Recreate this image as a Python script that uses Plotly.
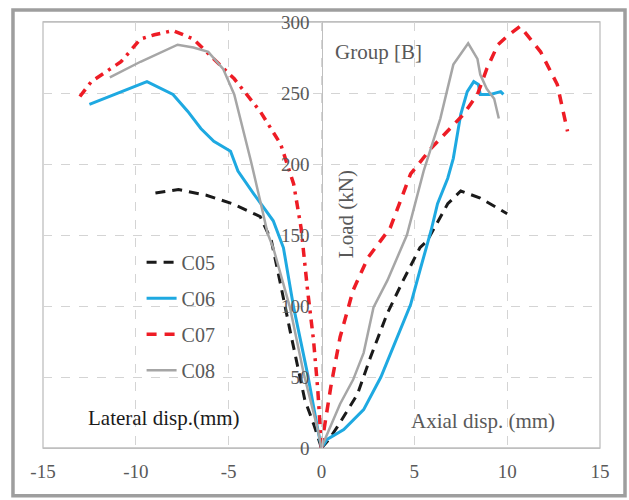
import plotly.graph_objects as go

# ---------------- data ----------------
x_ticks = [-15, -10, -5, 0, 5, 10, 15]
x_tick_text = ["-15", "-10", "-5", "0", "5", "10", "15"]
y_ticks = [0, 50, 100, 150, 200, 250, 300]
y_tick_text = ["0", "50", "100", "150", "200", "250", "300"]

series_names = ["C05", "C06", "C07", "C08"]

c05_lat_x = [0, -0.4, -0.9, -1.3, -1.7, -2.2, -2.7, -3.3, -4.8, -6.2, -7.7, -9.2]
c05_lat_y = [0, 16, 34, 58, 83, 115, 146, 163, 172, 178, 182, 179]
c05_ax_x = [0, 0.4, 0.86, 1.94, 2.64, 3.55, 4.4, 5.3, 5.7, 6.8, 7.5, 8.55, 10.0]
c05_ax_y = [0, 6, 15, 38, 64, 95, 118, 141, 146, 172, 181, 176, 165]

c06_lat_x = [0, -0.2, -0.75, -1.5, -2.05, -2.6, -3.65, -4.5, -4.9, -5.8, -6.5, -7.2, -8.0, -9.4, -12.5]
c06_lat_y = [0, 13, 52, 99, 141, 160, 179, 195, 209, 216, 225, 237, 249, 258, 242]
c06_ax_x = [0, 0.3, 1.2, 2.27, 3.2, 4.1, 4.8, 5.3, 5.9, 6.25, 6.8, 7.1, 7.5, 7.85, 8.2, 8.45, 8.55, 9.1, 9.65, 9.8]
c06_ax_y = [0, 6, 13, 27, 50, 78, 101, 125, 153, 172, 190, 204, 235, 251, 258, 256, 249, 249, 251, 249]

c07_lat_x = [0, -0.2, -0.43, -0.75, -1.1, -1.5, -2.2, -3.3, -4.7, -5.8, -6.9, -8.0, -9.0, -9.75, -10.8, -12.4, -13.1]
c07_lat_y = [0, 41, 76, 111, 155, 186, 214, 237, 260, 274, 288, 294, 291, 288, 272, 258, 246]
c07_ax_x = [0, 0.1, 0.5, 1.0, 1.7, 2.5, 3.7, 4.8, 5.9, 6.8, 7.65, 8.4, 8.9, 9.5, 10.0, 10.7, 11.8, 12.7, 13.25]
c07_ax_y = [0, 10, 43, 78, 111, 134, 155, 193, 211, 223, 235, 249, 267, 284, 290, 297, 279, 256, 223]

c08_lat_x = [0, -0.2, -0.95, -1.7, -2.6, -2.9, -3.3, -3.8, -4.7, -5.3, -6.1, -6.9, -7.75, -9.75, -11.4]
c08_lat_y = [0, 13, 52, 99, 141, 151, 174, 202, 249, 267, 279, 282, 284, 272, 261]
c08_ax_x = [0, 0.1, 1.0, 1.7, 2.27, 2.8, 3.55, 4.25, 4.6, 5.5, 6.4, 7.1, 7.9, 8.4, 8.55, 8.9, 9.3, 9.55]
c08_ax_y = [0, 3.5, 31, 48, 67, 99, 118, 139, 150, 195, 232, 270, 285, 274, 263, 253, 246, 232]

# ---------------- styles ----------------
FONT = "Liberation Serif"
TXT = "#595959"
GRID = "#D4D4D4"
AX = "#BFBFBF"

styles = {
    "C05": dict(color="#1a1a1a", width=3, dash="10px,7px"),
    "C06": dict(color="#1EA9E1", width=3, dash="solid"),
    "C07": dict(color="#EE1C25", width=3.5, dash="10px,8px"),
    "C08": dict(color="#A6A6A6", width=2.5, dash="solid"),
}
lat_dash = {"C07": "9px,6px,3px,6px"}

branches = {
    "C05": (c05_ax_x, c05_ax_y, c05_lat_x, c05_lat_y),
    "C06": (c06_ax_x, c06_ax_y, c06_lat_x, c06_lat_y),
    "C07": (c07_ax_x, c07_ax_y, c07_lat_x, c07_lat_y),
    "C08": (c08_ax_x, c08_ax_y, c08_lat_x, c08_lat_y),
}

fig = go.Figure()
for name in series_names:
    axx, axy, lx, ly = branches[name]
    st = styles[name]
    fig.add_trace(go.Scatter(x=axx, y=axy, mode="lines", name=name,
                             legendgroup=name, showlegend=True,
                             line=dict(color=st["color"], width=st["width"], dash=st["dash"])))
    fig.add_trace(go.Scatter(x=lx, y=ly, mode="lines", name=name,
                             legendgroup=name, showlegend=False,
                             line=dict(color=st["color"], width=st["width"],
                                       dash=lat_dash.get(name, st["dash"]))))

fig.update_layout(
    width=629, height=500,
    margin=dict(l=43, r=29, t=20, b=52),
    paper_bgcolor="white", plot_bgcolor="white",
    font=dict(family=FONT, size=19, color=TXT),
    showlegend=True,
    legend=dict(x=0.177, y=0.482, xanchor="left", yanchor="top",
                traceorder="grouped", tracegroupgap=7,
                bgcolor="rgba(0,0,0,0)", font=dict(family=FONT, size=20, color=TXT)),
    xaxis=dict(range=[-15, 15], tickvals=x_ticks, ticktext=x_tick_text,
               showgrid=True, gridcolor=GRID, griddash="dash", gridwidth=1.3,
               zeroline=False, showline=True, linecolor=AX, linewidth=1.3,
               mirror=True, ticks="", ticklabelstandoff=6,
               tickfont=dict(family=FONT, size=19, color=TXT)),
    yaxis=dict(range=[0, 300], tickvals=y_ticks, ticktext=y_tick_text,
               anchor="free", position=0.5,
               showgrid=True, gridcolor=GRID, griddash="dash", gridwidth=1.3,
               zeroline=False, showline=True, linecolor=AX, linewidth=1.3,
               ticks="", ticklabelstandoff=8,
               tickfont=dict(family=FONT, size=19, color=TXT)),
)

# plot-area box and outer frame
fig.add_shape(type="rect", xref="paper", yref="paper", x0=0, x1=1, y0=0, y1=1,
              line=dict(color=AX, width=1.3), layer="below")
fig.add_shape(type="rect", xref="paper", yref="paper",
              x0=-0.0539, x1=1.0449, y0=-0.112, y1=1.028,
              line=dict(color="#9E9E9E", width=3.5))

fig.add_annotation(x=3.07, y=279, text="Group [B]", showarrow=False,
                   font=dict(family=FONT, size=21, color=TXT))
fig.add_annotation(x=-8.5, y=21, text="Lateral disp.(mm)", showarrow=False,
                   font=dict(family=FONT, size=21, color="#1a1a1a"))
fig.add_annotation(x=8.72, y=19, text="Axial disp. (mm)", showarrow=False,
                   font=dict(family=FONT, size=21, color=TXT))
fig.add_annotation(x=1.29, y=165, text="Load (kN)", showarrow=False, textangle=-90,
                   font=dict(family=FONT, size=21, color=TXT))

fig.write_html("out.html")
